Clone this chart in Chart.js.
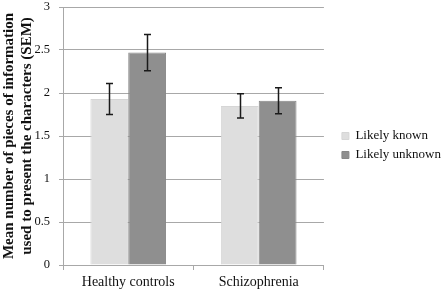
<!DOCTYPE html>
<html>
<head>
<meta charset="utf-8">
<script src="https://cdn.jsdelivr.net/npm/chart.js@4"></script>
<style>
  html, body { margin: 0; padding: 0; background: #fff; }
  #wrap { width: 447px; height: 291px; }
</style>
</head>
<body>
<div id="wrap"><canvas id="chart" width="447" height="291"></canvas></div>
<script>
const groups = ['Healthy controls', 'Schizophrenia'];
const knownMeans = [1.93, 1.85];
const knownSem = [0.18, 0.14];
const unknownMeans = [2.47, 1.91];
const unknownSem = [0.21, 0.15];
const yTitle = ['Mean number of pieces of information', 'used to present the characters (SEM)'];

const font = 'Liberation Serif';

// draws the SEM whiskers on top of each bar
const errorBars = {
  id: 'errorBars',
  afterDatasetsDraw(chart) {
    const ctx = chart.ctx;
    const y = chart.scales.y;
    ctx.save();
    ctx.strokeStyle = '#1a1a1a';
    ctx.lineWidth = 1.5;
    chart.data.datasets.forEach((ds, i) => {
      const meta = chart.getDatasetMeta(i);
      meta.data.forEach((bar, j) => {
        const hi = y.getPixelForValue(ds.data[j] + ds.sem[j]);
        const lo = y.getPixelForValue(ds.data[j] - ds.sem[j]);
        const x = Math.round(bar.x) + 0.5;
        ctx.beginPath();
        ctx.moveTo(x, hi); ctx.lineTo(x, lo);
        ctx.moveTo(x - 3.5, hi); ctx.lineTo(x + 3.5, hi);
        ctx.moveTo(x - 3.5, lo); ctx.lineTo(x + 3.5, lo);
        ctx.stroke();
      });
    });
    ctx.restore();
  }
};

// nudge the legend away from the plot, like the original layout
const legendShift = {
  id: 'legendShift',
  afterLayout(chart) {
    const lg = chart.legend;
    const w = lg.right - lg.left;
    lg.left = chart.chartArea.right + 12;
    lg.right = lg.left + w;
  }
};

new Chart(document.getElementById('chart').getContext('2d'), {
  type: 'bar',
  data: {
    labels: groups,
    datasets: [
      { label: 'Likely known', data: knownMeans, sem: knownSem, backgroundColor: '#dedede', borderColor: '#d6d6d6', borderWidth: 1 },
      { label: 'Likely unknown', data: unknownMeans, sem: unknownSem, backgroundColor: '#8f8f8f', borderColor: '#878787', borderWidth: 1 }
    ]
  },
  options: {
    responsive: false,
    animation: false,
    layout: { padding: { left: 0, top: 0, right: 8, bottom: 0 } },
    datasets: { bar: { categoryPercentage: 0.58, barPercentage: 1.0 } },
    plugins: {
      legend: {
        position: 'right',
        maxWidth: 140,
        labels: { boxWidth: 7, boxHeight: 7, padding: 6, color: '#111', font: { family: font, size: 13 } }
      },
      tooltip: { enabled: false }
    },
    scales: {
      x: {
        grid: { drawOnChartArea: false, color: '#a8a8a8', tickLength: 5 },
        border: { color: '#a8a8a8' },
        ticks: { color: '#111', padding: 4, font: { family: font, size: 14 } },
        afterFit(s) {
          s.height = 26;
        }
      },
      y: {
        min: 0, max: 3,
        ticks: { stepSize: 0.5, color: '#111', padding: 9, font: { family: font, size: 12.5 }, callback: v => String(v) },
        grid: { color: '#a8a8a8', tickLength: 4 },
        border: { color: '#a8a8a8' },
        title: { display: true, text: yTitle, color: '#111', padding: { top: 0, bottom: 0 }, font: { family: font, size: 15, weight: 'bold', lineHeight: 1.2 } },
        afterFit(s) {
          s.width = 63;
          s.paddingTop = 7;
        }
      }
    }
  },
  plugins: [errorBars, legendShift]
});
</script>
</body>
</html>
